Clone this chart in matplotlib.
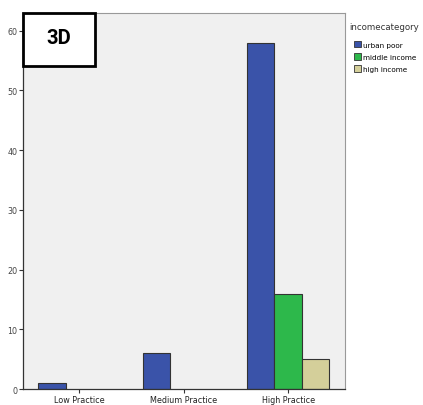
import matplotlib
matplotlib.use("Agg")
import matplotlib.pyplot as plt
from matplotlib.patches import Rectangle, Patch
import numpy as np

categories = ["Low Practice", "Medium Practice", "High Practice"]
series_names = ["urban poor", "middle income", "high income"]
urban_poor = [1, 6, 58]
middle_income = [0, 0, 16]
high_income = [0, 0, 5]
colors = ["#3A53A9", "#2DB84B", "#D4CF9A"]
yticks = [0, 10, 20, 30, 40, 50, 60]

fig = plt.figure(figsize=(4.23, 4.06), dpi=100)
ax = fig.add_axes([0.054, 0.039, 0.762, 0.927])
ax.set_facecolor("#F0F0F0")

x = np.arange(len(categories))
w = 0.263
for i, (vals, c) in enumerate(zip([urban_poor, middle_income, high_income], colors)):
    for xi, v in zip(x, vals):
        if v > 0:
            ax.bar(xi + (i - 1) * w, v, width=w, color=c, edgecolor="#333333", linewidth=0.8)

ax.set_xlim(-0.54, 2.545)
ax.set_ylim(0, 63)
ax.set_xticks(x)
ax.set_xticklabels(categories, fontsize=5.8, color="#222222")
ax.set_yticks(yticks)
ax.set_yticklabels([str(t) for t in yticks], fontsize=5.8, color="#444444")
ax.tick_params(axis="both", length=3, width=0.8, color="#333333", pad=1)
for s in ["left", "bottom"]:
    ax.spines[s].set_color("#333333")
    ax.spines[s].set_linewidth(0.9)
for s in ["top", "right"]:
    ax.spines[s].set_color("#999999")
    ax.spines[s].set_linewidth(0.8)

# "3D" label box
fig.patches.append(Rectangle((23 / 423, 1 - 67 / 406), 72 / 423, 53 / 406,
                             transform=fig.transFigure, facecolor="white",
                             edgecolor="black", linewidth=2, zorder=5))
fig.text(59 / 423, 1 - 39 / 406, "3D", fontsize=14.5, fontweight="bold",
         family=["Roboto", "DejaVu Sans"],
         ha="center", va="center", zorder=6)

fig.text(349 / 423, 1 - 27 / 406, "incomecategory", fontsize=6.2,
         color="#333333", ha="left", va="center")

handles = [Patch(facecolor=c, edgecolor="#333333", linewidth=0.6) for c in colors]
leg = fig.legend(handles, series_names,
                 loc="upper left", bbox_to_anchor=(354 / 423, 1 - 42 / 406),
                 frameon=False, fontsize=5.2,
                 handlelength=1.0, handleheight=1.0, handletextpad=0.2,
                 labelspacing=0.75, borderpad=0, borderaxespad=0)

fig.savefig("out.png", dpi=100)
